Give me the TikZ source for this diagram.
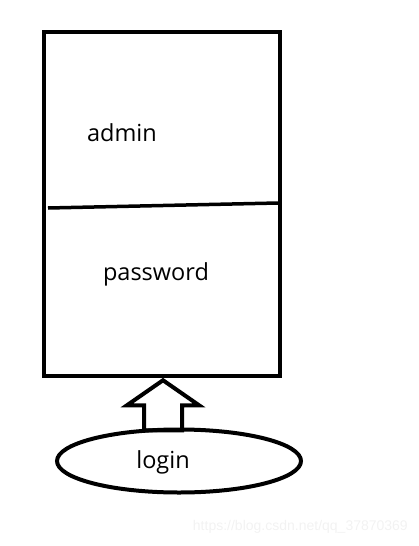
\documentclass[tikz,border=0pt]{standalone}
\usepackage{fontspec}
\setmainfont{Open Sans}
\newfontfamily\markfont{Liberation Sans}
\usetikzlibrary{shapes.geometric, positioning}

\begin{document}
\begin{tikzpicture}[
    x=1pt, y=-1pt,
    boxnode/.style={rectangle, draw, line width=4.5pt, minimum width=236pt, minimum height=344pt, inner sep=0pt},
    ovalnode/.style={ellipse, draw, line width=4pt, minimum width=244pt, minimum height=63pt, inner sep=0pt},
    tnode/.style={font=\fontsize{23.5}{28}\selectfont, inner sep=0pt},
  ]
  \useasboundingbox (0,0) rectangle (418,546);
  \node[boxnode] (box) at (162,204) {};
  \coordinate (divl) at (48,208);
  \coordinate (divr) at (278,203);
  \draw[line width=3.5pt] (divl) -- (divr);
  \node[tnode] (admin)    at (122,133) {admin};
  \node[tnode] (password) at (156,274) {password};
  \node[ovalnode] (oval) at (179,461) {};
  \node[tnode] (login) at (163,462) {login};
  % block arrow from the oval up to the box
  \coordinate (tip) at ([xshift=1pt,yshift=-2pt]box.south);
  \draw[line width=4pt, line join=miter] (tip) -- ++(36,25) -- ++(-17,0) -- ++(0,25)
    -- ++(-38,0) -- ++(0,-25) -- ++(-17,0) -- cycle;
  % watermark
  \node[anchor=east, text=black!5, font=\markfont\fontsize{14}{16}\selectfont, inner sep=0pt] (mark) at (408,527) {https://blog.csdn.net/qq\_37870369};
\end{tikzpicture}
\end{document}
